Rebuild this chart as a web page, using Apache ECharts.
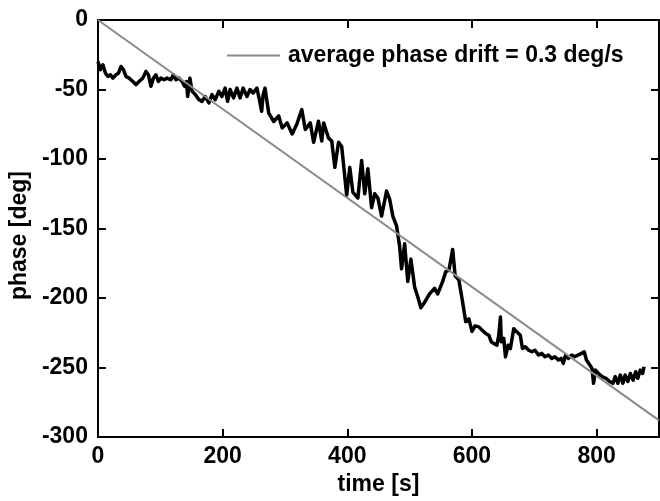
<!DOCTYPE html>
<html>
<head>
<meta charset="utf-8">
<script src="https://cdn.jsdelivr.net/npm/echarts@6/dist/echarts.min.js"></script>
<style>
html,body{margin:0;padding:0;background:#fff;}
#chart{width:660px;height:501px;}
</style>
</head>
<body>
<div id="chart"></div>
<script>
const times = [0,4,8,12,16,20,24,29,33,37,41,45,50,56,61,66,72,77,81,85,89,93,97,101,106,111,117,121,125,130,135,139,142,144,147.5,151,156.5,162,167,172,178,183,188,194,199,204,208,212,217.5,223,228,233,239,244,249,255,259,262.6,265,268,271,274,282,290,295.5,303.5,311.5,319,327,332.6,340.6,346,353.8,359,362,370,375,380,386,391,399,404,409,417,423,428,433,439,444,449,455,463,468,473,479,484,487,492,497,502,508,513,518,524,532,540,545,553,558,563,569,573,579,585,590,595,600,605,611,616,622,627,631,635,640,643,645.7,647,651,653.7,658,661.6,667,672,677.5,681,685.5,691,696,701,707,712,717,722.6,728,733,738.5,743,746.5,750,754.4,760,765,770,775.7,780,783.6,789,792.6,795,798,803,808.5,815,820.8,826,829.8,834,838,842,845.7,850,854,858.4,862.7,866,870,873.8,876];
const phase = [-29.8,-35.8,-32.2,-38.2,-40.6,-39.4,-41.8,-39.4,-38.2,-33.4,-35.8,-40.6,-41.8,-44.2,-46.5,-44.2,-41.8,-37,-39.4,-47.7,-41.8,-39.4,-44.2,-41.8,-43,-41.8,-43,-39.4,-43,-41.8,-44.2,-47.7,-44.2,-55,-41.8,-51.3,-53.7,-57.3,-58.5,-55,-59.7,-53.7,-57.3,-51.3,-55,-49,-58.5,-50,-56,-49,-56,-49,-55,-50,-52.5,-49,-57.3,-65.7,-53.7,-49,-58,-67,-73,-69,-77.6,-74,-82,-75,-64.4,-78.8,-74,-88,-72.8,-87,-74,-85,-87,-106,-88,-91,-126,-106,-124,-128,-101,-125,-107,-135,-125,-128,-141,-123,-129,-141,-148,-163,-179,-161,-188,-172,-192,-199,-207,-203,-197,-193,-197,-188,-181,-180,-165,-184,-187,-203,-217,-215,-224,-220,-220.7,-223,-225.5,-226.7,-231.5,-232.7,-233.9,-226.7,-213.6,-231.5,-229,-242.2,-233.9,-236.3,-222,-224.3,-226.7,-236.3,-235,-237.5,-238.6,-237.5,-241,-239.8,-242.2,-241,-243.4,-242.2,-244.6,-243.4,-247,-241,-243.4,-241,-242.2,-241,-239.8,-238.6,-244.6,-248.2,-250.6,-261.3,-251.8,-254.2,-256.5,-257.7,-260,-261.3,-256.5,-261.3,-255.4,-261.3,-255.4,-260,-254.2,-259,-253,-257.7,-251.8,-254.2,-249.4];
const driftT = [0, 900];
const driftV = [0, -288];
const xTicks = [0, 200, 400, 600, 800];
const yTicks = [0, -50, -100, -150, -200, -250, -300];
const legendLabel = 'average phase drift = 0.3 deg/s';

const FONT = '"Liberation Sans", Arial, sans-serif';
const chart = echarts.init(document.getElementById('chart'));
const axisCommon = {
  axisLine: {show: true, onZero: false, lineStyle: {color: '#000', width: 2}},
  axisTick: {show: true, inside: true, length: 8, lineStyle: {color: '#000', width: 2}},
  splitLine: {show: false}
};
chart.setOption({
  animation: false,
  backgroundColor: '#fff',
  grid: {left: 96, top: 20, right: 1, bottom: 62},
  legend: {
    data: [legendLabel],
    left: 222, top: 39,
    icon: 'rect',
    itemWidth: 53, itemHeight: 2, itemGap: 0,
    textStyle: {fontFamily: FONT, fontWeight: 'bold', fontSize: 23, color: '#000', padding: [0,0,0,3]}
  },
  xAxis: [
    Object.assign({
      type: 'value', min: 0, max: 900, interval: 200, position: 'bottom',
      name: 'time [s]', nameLocation: 'middle', nameGap: 33,
      nameTextStyle: {fontFamily: FONT, fontWeight: 'bold', fontSize: 23, color: '#000'},
      axisLabel: {fontFamily: FONT, fontWeight: 'bold', fontSize: 23, color: '#000', margin: 8,
        showMaxLabel: false,
        formatter: v => xTicks.includes(v) ? String(v) : ''}
    }, axisCommon),
    Object.assign({
      type: 'value', min: 0, max: 900, interval: 200, position: 'top',
      axisLabel: {show: false}
    }, axisCommon)
  ],
  yAxis: [
    Object.assign({
      type: 'value', min: -300, max: 0, interval: 50, position: 'left',
      name: 'phase [deg]', nameLocation: 'middle', nameGap: 64, nameRotate: 90,
      nameTextStyle: {fontFamily: FONT, fontWeight: 'bold', fontSize: 23, color: '#000', padding: [0,14,0,0]},
      axisLabel: {fontFamily: FONT, fontWeight: 'bold', fontSize: 23, color: '#000', margin: 10,
        formatter: v => yTicks.includes(v) ? String(v) : ''}
    }, axisCommon),
    Object.assign({
      type: 'value', min: -300, max: 0, interval: 50, position: 'right',
      axisLabel: {show: false}
    }, axisCommon)
  ],
  series: [
    {
      name: 'phase', type: 'line', xAxisIndex: 0, yAxisIndex: 0,
      data: times.map((t, i) => [t, phase[i]]),
      showSymbol: false, symbol: 'none',
      lineStyle: {color: '#000', width: 3.5, join: 'round'}, z: 3
    },
    {
      name: legendLabel, type: 'line', xAxisIndex: 0, yAxisIndex: 0,
      data: driftT.map((t, i) => [t, driftV[i]]),
      showSymbol: false, symbol: 'none',
      itemStyle: {color: '#8a8a8a'},
      lineStyle: {color: '#8a8a8a', width: 2}, z: 4
    }
  ]
});
</script>
</body>
</html>
